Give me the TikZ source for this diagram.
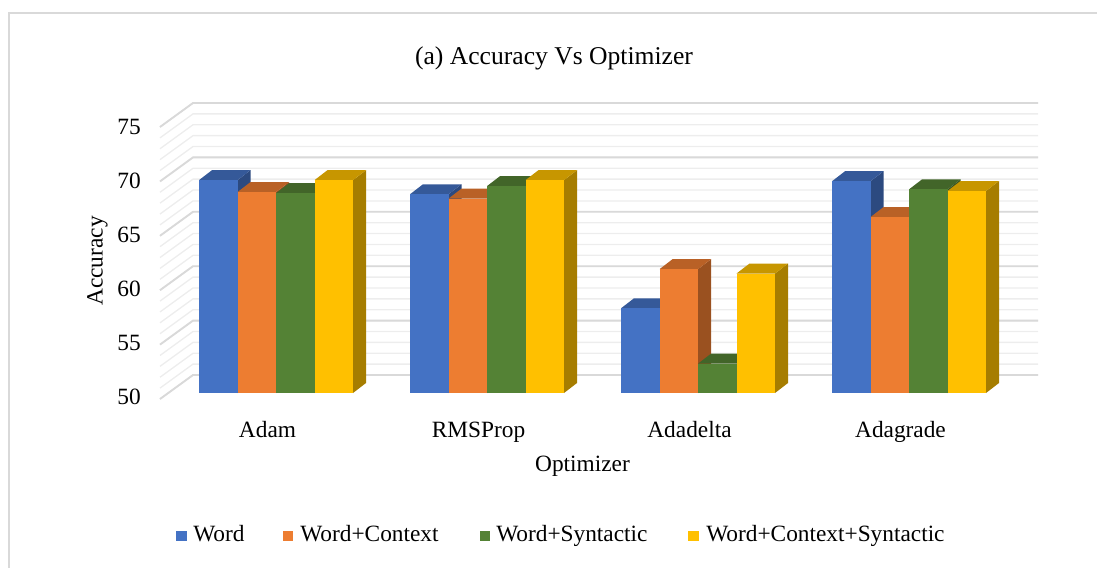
\documentclass[tikz,border=0pt]{standalone}
\usepackage{fontspec}
\setmainfont{Liberation Serif}
\usepackage{tikz}

\definecolor{cword}{HTML}{4472C4}
\definecolor{cctx}{HTML}{ED7D31}
\definecolor{csyn}{HTML}{548235}
\definecolor{call}{HTML}{FFC000}
\definecolor{gridmajor}{HTML}{D9D9D9}
\definecolor{gridminor}{HTML}{EDEDED}

% 3d column: colour, left edge, value
\newcommand{\optbar}[3]{%
  \pgfmathsetmacro{\bt}{393-(#3-50)*10.86}%
  \fill[#1!65!black] (#2+38.5,\bt) -- ++(13,-10) -- (#2+51.5,383) -- (#2+38.5,393) -- cycle;
  \fill[#1!78!black] (#2,\bt) -- ++(13,-10) -- ++(38.5,0) -- (#2+38.5,\bt) -- cycle;
  \fill[#1] (#2,\bt) rectangle (#2+38.5,393);
}

\tikzset{
  lbl/.style={font=\fontsize{17.5}{20}\selectfont, inner sep=0pt},
  legsq/.style={minimum size=8.2pt, inner sep=0pt},
}

\begin{document}
\begin{tikzpicture}[x=0.75pt, y=-0.75pt]
        \useasboundingbox (0,0) rectangle (1097,568);
        \draw[gridmajor, line width=1.4pt] (9,568) -- (9,13) -- (1097,13);

        % walls
        \foreach \v in {50,...,75} {
            \pgfmathsetmacro{\gy}{375-(\v-50)*10.88}
            \draw[gridminor, line width=1pt] (160,\gy+24) -- (193,\gy) -- (1038,\gy);
        }
        \foreach \v in {50,55,...,75} {
            \pgfmathsetmacro{\gy}{375-(\v-50)*10.88}
            \draw[gridmajor, line width=1.4pt] (160,\gy+24) -- (193,\gy) -- (1038,\gy);
        }

        % Adam
        \optbar{cword}{199}{69.6}
        \optbar{cctx}{237.5}{68.5}
        \optbar{csyn}{276}{68.4}
        \optbar{call}{314.5}{69.6}
        % RMSProp
        \optbar{cword}{410}{68.3}
        \optbar{cctx}{448.5}{67.9}
        \optbar{csyn}{487}{69.05}
        \optbar{call}{525.5}{69.6}
        % Adadelta
        \optbar{cword}{621}{57.8}
        \optbar{cctx}{659.5}{61.4}
        \optbar{csyn}{698}{52.7}
        \optbar{call}{736.5}{61.0}
        % Adagrade
        \optbar{cword}{832}{69.5}
        \optbar{cctx}{870.5}{66.2}
        \optbar{csyn}{909}{68.75}
        \optbar{call}{947.5}{68.6}

        \node[lbl, anchor=east] (t75) at (141,127) {75};
        \node[lbl, anchor=east] (t70) at (141,181) {70};
        \node[lbl, anchor=east] (t65) at (141,235) {65};
        \node[lbl, anchor=east] (t60) at (141,289) {60};
        \node[lbl, anchor=east] (t55) at (141,343) {55};
        \node[lbl, anchor=east] (t50) at (141,397) {50};

        \node[lbl, anchor=base] (adam) at (267.5,437) {Adam};
        \node[lbl, anchor=base] (rmsprop) at (478.5,437) {RMSProp};
        \node[lbl, anchor=base] (adadelta) at (689.5,437) {Adadelta};
        \node[lbl, anchor=base] (adagrade) at (900.5,437) {Adagrade};

        \node[lbl, anchor=base] (xlabel) at (582.5,471) {Optimizer};
        \node[lbl, anchor=base, rotate=90] (ylabel) at (102.5,261) {Accuracy};
        \node[font=\fontsize{19.2}{22}\selectfont, inner sep=0pt, anchor=base] (title) at (554,64) {(a) Accuracy Vs Optimizer};

        \node[legsq, fill=cword] (sqword) at (181.5,536) {};
        \node[lbl, anchor=base west] (lgword) at (193,541.5) {Word};
        \node[legsq, fill=cctx] (sqctx) at (288,536) {};
        \node[lbl, anchor=base west] (lgctx) at (300,541.5) {Word+Context};
        \node[legsq, fill=csyn] (sqsyn) at (485,536) {};
        \node[lbl, anchor=base west] (lgsyn) at (496,541.5) {Word+Syntactic};
        \node[legsq, fill=call] (sqall) at (693.5,536) {};
        \node[lbl, anchor=base west] (lgall) at (706,541.5) {Word+Context+Syntactic};
    \end{tikzpicture}
\end{document}
